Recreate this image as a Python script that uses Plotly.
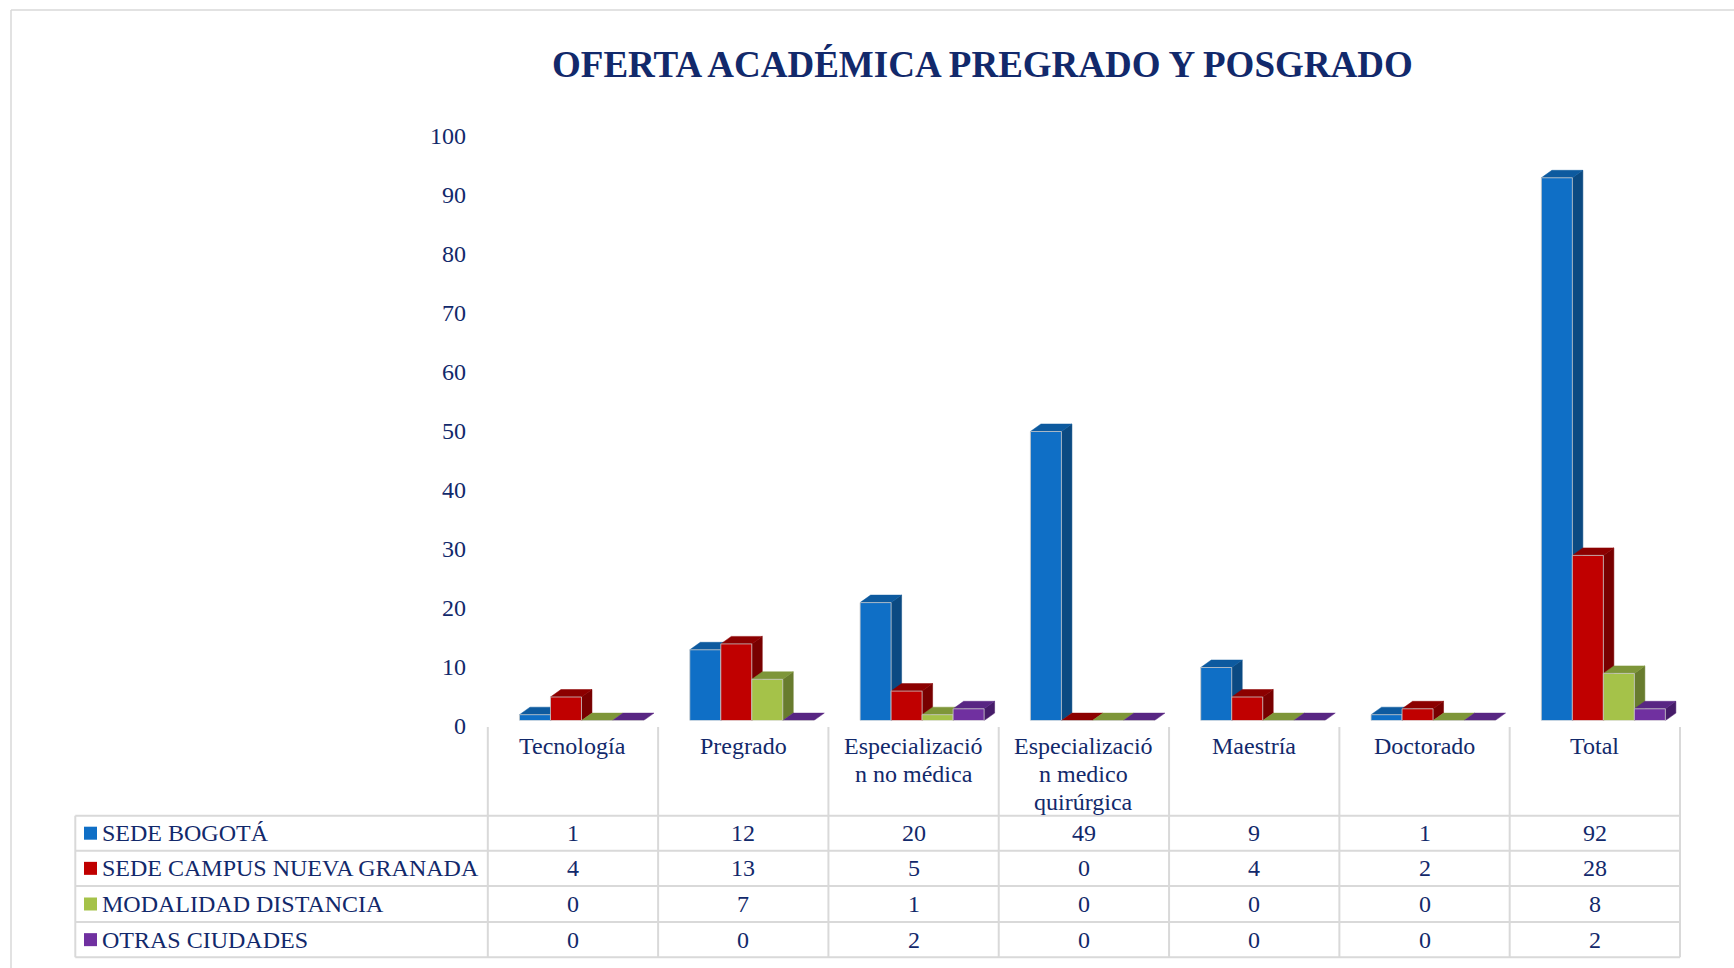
import plotly.graph_objects as go

# ---- data -------------------------------------------------------------
categories = ["Tecnología", "Pregrado", "Especialización no médica",
              "Especialización medico quirúrgica", "Maestría", "Doctorado", "Total"]
category_lines = [["Tecnología"], ["Pregrado"], ["Especializació", "n no médica"],
                  ["Especializació", "n medico", "quirúrgica"], ["Maestría"],
                  ["Doctorado"], ["Total"]]
series_names = ["SEDE BOGOTÁ", "SEDE CAMPUS NUEVA GRANADA",
                "MODALIDAD DISTANCIA", "OTRAS CIUDADES"]
sede_bogota = [1, 12, 20, 49, 9, 1, 92]
sede_campus = [4, 13, 5, 0, 4, 2, 28]
modalidad_distancia = [0, 7, 1, 0, 0, 0, 8]
otras_ciudades = [0, 0, 2, 0, 0, 0, 2]
y_ticks = [0, 10, 20, 30, 40, 50, 60, 70, 80, 90, 100]
title = "OFERTA ACADÉMICA PREGRADO Y POSGRADO"

series_values = [sede_bogota, sede_campus, modalidad_distancia, otras_ciudades]

# front / top / side face colours for each series
front_colors = ["#0F6FC6", "#C00000", "#A5C249", "#7030A0"]
top_colors = ["#0D5A9F", "#8C0000", "#7E9639", "#582683"]
side_colors = ["#0B4A82", "#780000", "#687C2E", "#461C69"]

# ---- geometry -----------------------------------------------------------
W, H = 1734, 968
FONT = "Liberation Serif, Times New Roman, serif"
TEXT = "#12296B"
GRID = "#D9D9D9"


def px(x):
    return x / W


def py(y):
    return 1 - y / H


plot_left, plot_right = 487.8, 1680.0
plot_bottom, plot_top = 720.6, 130.6
x_range = [-0.55, 6.45]
col_w = (plot_right - plot_left) / (x_range[1] - x_range[0])

group_w = 0.728
bar_w = group_w / len(series_values)
depth_dx = 10.5 / col_w                      # in category units
depth_dy = 7.5 / ((plot_bottom - plot_top) / 100)   # in value units

fig = go.Figure()
shapes = []

for s, (name, vals) in enumerate(zip(series_names, series_values)):
    offset = -group_w / 2 + s * bar_w
    fig.add_trace(go.Bar(
        x=list(range(len(categories))), y=vals, name=name,
        width=bar_w, offset=offset,
        marker=dict(color=front_colors[s], line=dict(color="#C8C8C8", width=0.8)),
        showlegend=False, hoverinfo="skip",
    ))
    # depth faces (side then top) drawn under the front faces
    for k, v in enumerate(vals):
        xl = k + offset
        xr = xl + bar_w
        if v > 0:
            shapes.append(dict(
                type="path", xref="x", yref="y", layer="below",
                path=(f"M {xr},0 L {xr},{v} L {xr + depth_dx},{v + depth_dy} "
                      f"L {xr + depth_dx},{depth_dy} Z"),
                fillcolor=side_colors[s], line=dict(color=side_colors[s], width=0.5)))
        shapes.append(dict(
            type="path", xref="x", yref="y", layer="below",
            path=(f"M {xl},{v} L {xr},{v} L {xr + depth_dx},{v + depth_dy} "
                  f"L {xl + depth_dx},{v + depth_dy} Z"),
            fillcolor=top_colors[s], line=dict(color=top_colors[s], width=0.5)))

annotations = []

# title
annotations.append(dict(
    text=f"<b>{title}</b>", xref="paper", yref="paper", x=px(983), y=py(64),
    xanchor="center", yanchor="middle", showarrow=False,
    font=dict(family=FONT, size=37, color=TEXT)))

# value axis labels
for t in y_ticks:
    annotations.append(dict(
        text=str(t), xref="paper", yref="y", x=px(468), y=t, yshift=-5.5,
        xanchor="right", yanchor="middle", showarrow=False,
        font=dict(family=FONT, size=24, color=TEXT)))

# ---- data table -----------------------------------------------------------
row_lines = [815.7, 850.7, 886.0, 922.0, 957.3]
table_left = 75.3
header_top = 727.0

for y in row_lines:
    shapes.append(dict(type="line", xref="paper", yref="paper",
                       x0=px(table_left), x1=px(plot_right), y0=py(y), y1=py(y),
                       line=dict(color=GRID, width=2)))
shapes.append(dict(type="line", xref="paper", yref="paper",
                   x0=px(table_left), x1=px(table_left),
                   y0=py(row_lines[0]), y1=py(row_lines[-1]),
                   line=dict(color=GRID, width=2)))
for b in range(len(categories) + 1):
    xb = plot_left + b * col_w
    shapes.append(dict(type="line", xref="paper", yref="paper",
                       x0=px(xb), x1=px(xb), y0=py(header_top), y1=py(row_lines[-1]),
                       line=dict(color=GRID, width=2)))

# category headers
for k, lines in enumerate(category_lines):
    for j, line in enumerate(lines):
        annotations.append(dict(
            text=line, xref="x", yref="paper", x=k - 0.05, y=py(746 + 28 * j),
            xanchor="center", yanchor="middle", showarrow=False,
            font=dict(family=FONT, size=24, color=TEXT)))

# rows: legend key, series name and values
for s, (name, vals) in enumerate(zip(series_names, series_values)):
    yc = (row_lines[s] + row_lines[s + 1]) / 2
    shapes.append(dict(type="rect", xref="paper", yref="paper",
                       x0=px(84), x1=px(97), y0=py(yc + 6.5), y1=py(yc - 6.5),
                       fillcolor=front_colors[s], line=dict(width=0)))
    annotations.append(dict(
        text=name, xref="paper", yref="paper", x=px(100), y=py(yc),
        xanchor="left", yanchor="middle", showarrow=False,
        font=dict(family=FONT, size=24, color=TEXT)))
    for k, v in enumerate(vals):
        annotations.append(dict(
            text=str(v), xref="x", yref="paper", x=k - 0.05, y=py(yc),
            xanchor="center", yanchor="middle", showarrow=False,
            font=dict(family=FONT, size=24, color=TEXT)))

# outer frame
shapes.append(dict(type="line", xref="paper", yref="paper",
                   x0=px(11), x1=1, y0=py(10), y1=py(10),
                   line=dict(color=GRID, width=1.5)))
shapes.append(dict(type="line", xref="paper", yref="paper",
                   x0=px(11), x1=px(11), y0=py(10), y1=0,
                   line=dict(color=GRID, width=1.5)))

fig.update_layout(
    width=W, height=H,
    margin=dict(l=0, r=0, t=0, b=0),
    paper_bgcolor="white", plot_bgcolor="rgba(0,0,0,0)",
    barmode="overlay",
    xaxis=dict(domain=[px(plot_left), px(plot_right)], range=x_range,
               visible=False, fixedrange=True),
    yaxis=dict(domain=[py(plot_bottom), py(plot_top)], range=[0, 100],
               visible=False, fixedrange=True),
    shapes=shapes, annotations=annotations,
)

fig.write_html("out.html")
